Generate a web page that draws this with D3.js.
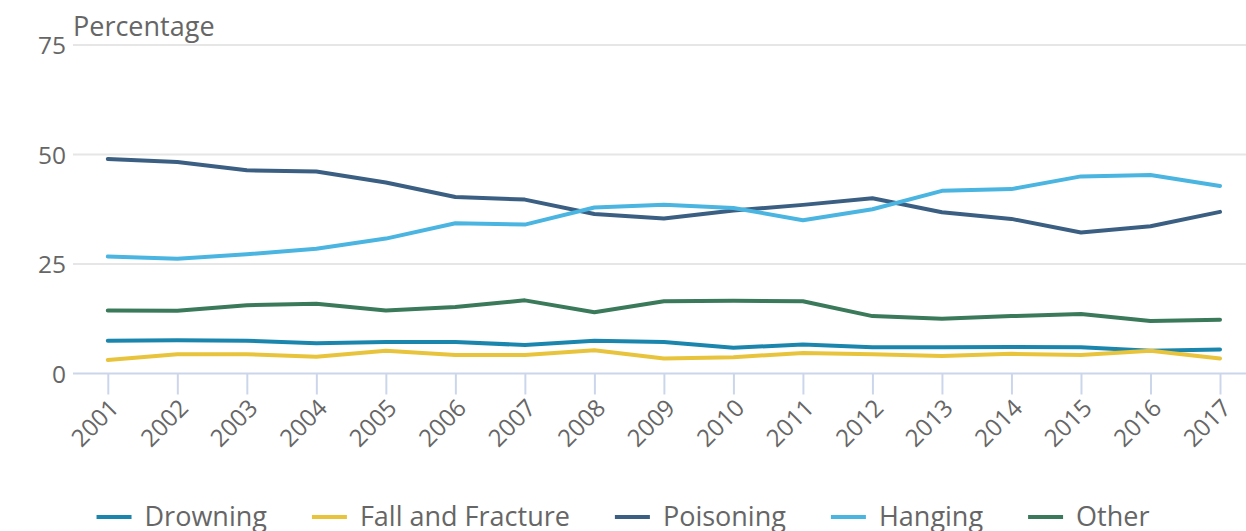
<!DOCTYPE html>
<html>
<head>
<meta charset="utf-8">
<script src="https://cdn.jsdelivr.net/npm/d3@7"></script>
<style>
  body { margin: 0; background: #fff; }
  svg { display: block; font-family: "Open Sans", sans-serif; }
</style>
</head>
<body>
<div id="chart"></div>
<script>
const years = ["2001","2002","2003","2004","2005","2006","2007","2008","2009",
               "2010","2011","2012","2013","2014","2015","2016","2017"];
const yTicks = [0, 25, 50, 75];

const drowning = [7.5, 7.6, 7.5, 6.9, 7.2, 7.2, 6.5, 7.5, 7.2, 5.9, 6.6, 6.0, 6.0, 6.05, 6.0, 5.2, 5.5];
const fallFracture = [3.1, 4.4, 4.4, 3.8, 5.2, 4.2, 4.2, 5.3, 3.4, 3.7, 4.7, 4.4, 4.0, 4.5, 4.2, 5.2, 3.4];
const poisoning = [49.0, 48.3, 46.4, 46.1, 43.6, 40.3, 39.7, 36.4, 35.4, 37.2, 38.5, 40.0, 36.8, 35.3, 32.2, 33.6, 36.9];
const hanging = [26.7, 26.2, 27.2, 28.5, 30.8, 34.3, 34.0, 37.9, 38.5, 37.8, 35.0, 37.5, 41.7, 42.1, 45.0, 45.3, 42.8];
const other = [14.4, 14.3, 15.6, 15.9, 14.4, 15.2, 16.7, 14.0, 16.5, 16.6, 16.5, 13.1, 12.5, 13.1, 13.6, 12.0, 12.3];

const seriesNames = ["Drowning", "Fall and Fracture", "Poisoning", "Hanging", "Other"];
const seriesColours = ["#1b86ad", "#e8c43c", "#3b5f82", "#4ab5e0", "#3a7a5a"];
const seriesValues = [drowning, fallFracture, poisoning, hanging, other];

const width = 1246, height = 531;
const plotLeft = 73, plotRight = 1246;
const labelColour = "#666666";

const svg = d3.select("#chart").append("svg")
    .attr("width", width)
    .attr("height", height);

const x = d3.scalePoint()
    .domain(years)
    .range([107.8, 1220]);

const y = d3.scaleLinear()
    .domain([0, 75])
    .range([373.5, 45]);

// gridlines
svg.append("g")
    .selectAll("line")
    .data(yTicks.filter(d => d !== 0))
    .enter()
    .append("line")
        .attr("x1", plotLeft)
        .attr("x2", plotRight)
        .attr("y1", d => y(d))
        .attr("y2", d => y(d))
        .attr("stroke", "#e6e6e6")
        .attr("stroke-width", 2);

// y labels
svg.append("g")
    .selectAll("text")
    .data(yTicks)
    .enter()
    .append("text")
        .attr("x", 66)
        .attr("y", d => y(d) + 9)
        .attr("text-anchor", "end")
        .attr("fill", labelColour)
        .style("font-size", "24.5px")
        .text(d => d);

svg.append("text")
    .attr("x", plotLeft)
    .attr("y", 36)
    .attr("fill", labelColour)
    .style("font-size", "27px")
    .text("Percentage");

// x axis
const xAxis = d3.axisBottom(x).tickSize(21).tickFormat(d => d);
const gx = svg.append("g")
    .attr("transform", `translate(0, ${ y(0) })`)
    .call(xAxis);
gx.select(".domain").remove();
gx.append("line")
    .attr("x1", plotLeft)
    .attr("x2", plotRight)
    .attr("stroke", "#ccd6eb")
    .attr("stroke-width", 2);
gx.selectAll(".tick line")
    .attr("stroke", "#ccd6eb")
    .attr("stroke-width", 2);
gx.selectAll(".tick text")
    .attr("fill", labelColour)
    .style("font-size", "24px")
    .style("font-family", "Open Sans, sans-serif")
    .attr("text-anchor", "end")
    .attr("transform", "translate(6, 30) rotate(-45)")
    .attr("x", 0)
    .attr("y", 0)
    .attr("dy", "0.35em");

// lines
const line = d3.line()
    .x((d, i) => x(years[i]))
    .y(d => y(d));

svg.append("g")
    .selectAll("path")
    .data(seriesValues)
    .enter()
    .append("path")
        .attr("d", d => line(d))
        .attr("fill", "none")
        .attr("stroke", (d, i) => seriesColours[i])
        .attr("stroke-width", 4)
        .attr("stroke-linejoin", "round")
        .attr("stroke-linecap", "round");

// legend
const legend = svg.append("g");
const items = legend.selectAll("g")
    .data(seriesNames)
    .enter()
    .append("g");
items.append("line")
    .attr("x1", 0)
    .attr("x2", 35)
    .attr("y1", 517)
    .attr("y2", 517)
    .attr("stroke", (d, i) => seriesColours[i])
    .attr("stroke-width", 4);
items.append("text")
    .attr("x", 48)
    .attr("y", 526)
    .attr("fill", labelColour)
    .style("font-size", "27px")
    .text(d => d);

let offset = 0;
const itemGap = 45;
items.each(function() {
    const w = 48 + d3.select(this).select("text").node().getComputedTextLength();
    d3.select(this).attr("transform", `translate(${ offset }, 0)`);
    offset += w + itemGap;
});
const total = offset - itemGap;
legend.attr("transform", `translate(${ (width - total) / 2 }, 0)`);
</script>
</body>
</html>
